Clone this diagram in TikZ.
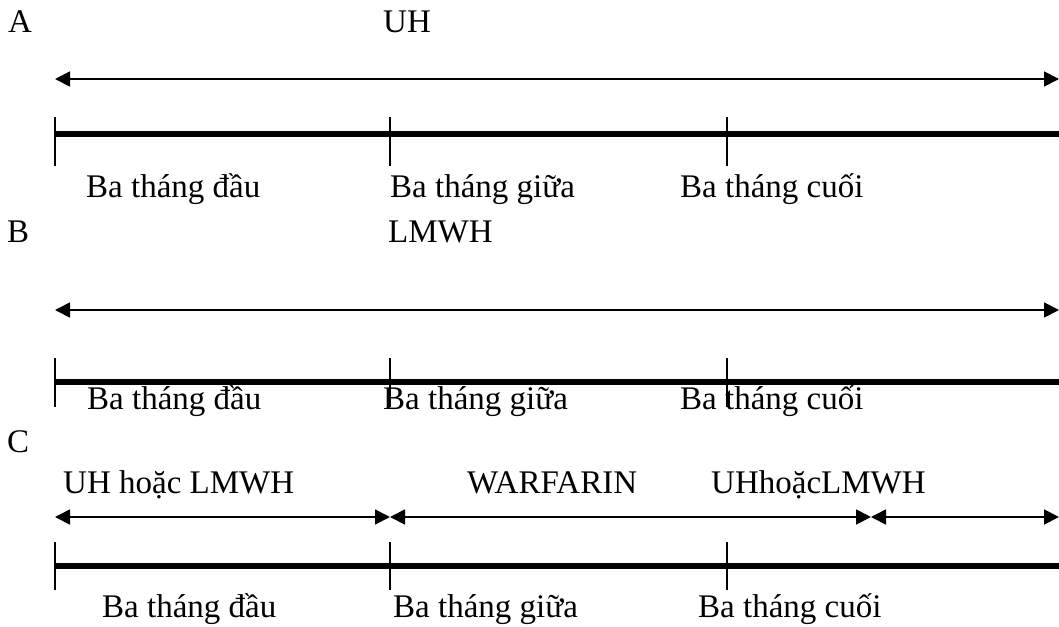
\documentclass[tikz,border=0pt]{standalone}
\usepackage{fontspec}
\setmainfont{Liberation Serif}
\usetikzlibrary{arrows.meta}
\begin{document}
\begin{tikzpicture}[x=1pt,y=-1pt,
  lbl/.style={anchor=base west, inner sep=0pt, font=\fontsize{33}{39}\selectfont},
  span/.style={line width=1.8pt,
    {Triangle[length=15pt,width=15pt]}-{Triangle[length=15pt,width=15pt]}},
  timeline/.style={line width=5.8pt},
  tickmark/.style={line width=1.8pt}]
\useasboundingbox (0,0) rectangle (1059,626);

% ---------- A: unfractionated heparin throughout ----------
\node[lbl] (labA)  at (8,33)  {A};
\node[lbl] (drugA) at (383,33) {UH};
\coordinate (aL) at (55,79);
\coordinate (aR) at (1059,79);
\draw[span] (aL) -- (aR);
\coordinate (a0) at (55,134);
\coordinate (a1) at (390,134);
\coordinate (a2) at (727,134);
\coordinate (aE) at (1059,134);
\draw[timeline] (a0) -- (aE);
\foreach \t in {a0,a1,a2}
  \draw[tickmark] ([yshift=17pt]\t) -- ([yshift=-32pt]\t);
\node[lbl] (a1st) at (86,197)  {Ba tháng đầu};
\node[lbl] (a2nd) at (390,197) {Ba tháng giữa};
\node[lbl] (a3rd) at (680,197) {Ba tháng cuối};

% ---------- B: low-molecular-weight heparin throughout ----------
\node[lbl] (labB)  at (7,242)   {B};
\node[lbl] (drugB) at (388,242) {LMWH};
\coordinate (bL) at (55,310);
\coordinate (bR) at (1059,310);
\draw[span] (bL) -- (bR);
\coordinate (b0) at (55,382);
\coordinate (b1) at (390,382);
\coordinate (b2) at (727,382);
\coordinate (bE) at (1059,382);
\draw[timeline] (b0) -- (bE);
\foreach \t in {b0,b1,b2}
  \draw[tickmark] ([yshift=24pt]\t) -- ([yshift=-25pt]\t);
\node[lbl] (b1st) at (87,409)  {Ba tháng đầu};
\node[lbl] (b2nd) at (383,409) {Ba tháng giữa};
\node[lbl] (b3rd) at (680,409) {Ba tháng cuối};

% ---------- C: heparin, then warfarin, then heparin ----------
\node[lbl] (labC) at (7,452) {C};
\node[lbl] (drugC1) at (63,493)  {UH hoặc LMWH};
\node[lbl] (drugC2) at (467,493) {WARFARIN};
\node[lbl] (drugC3) at (711,493) {UHhoặcLMWH};
\coordinate (c0) at (55,517);
\coordinate (c1) at (390,517);
\coordinate (c2) at (871,517);
\coordinate (c3) at (1059,517);
\draw[span] (c0) -- (c1);
\draw[span] (c1) -- (c2);
\draw[span] (c2) -- (c3);
\coordinate (d0) at (55,566);
\coordinate (d1) at (390,566);
\coordinate (d2) at (727,566);
\coordinate (dE) at (1059,566);
\draw[timeline] (d0) -- (dE);
\foreach \t in {d0,d1,d2}
  \draw[tickmark] ([yshift=24pt]\t) -- ([yshift=-24pt]\t);
\node[lbl] (c1st) at (102,617) {Ba tháng đầu};
\node[lbl] (c2nd) at (393,617) {Ba tháng giữa};
\node[lbl] (c3rd) at (698,617) {Ba tháng cuối};
\end{tikzpicture}
\end{document}
